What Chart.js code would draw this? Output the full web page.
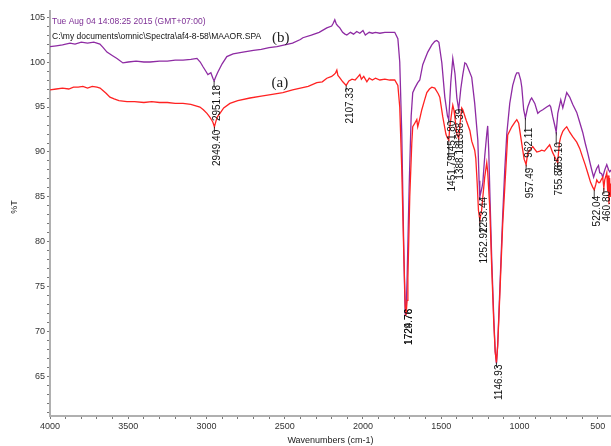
<!DOCTYPE html>
<html><head><meta charset="utf-8">
<script src="https://cdn.jsdelivr.net/npm/chart.js@4/dist/chart.umd.min.js"></script>
<style>html,body{margin:0;padding:0;background:#fff;overflow:hidden}</style>
</head><body>
<canvas id="c" width="611" height="446"></canvas>
<script>
// ---- DATA ----
const seriesNames = ["(a)", "(b)"];
const wnA = [4000,3960,3920,3880,3850,3820,3790,3760,3730,3700,3680,3660,3640,3617,3590,3560,3508,3460,3400,3350,3300,3250,3200,3150,3100,3042,3020,2997,2980,2965,2959,2949.4,2940,2930,2914,2890,2850,2800,2722,2650,2580,2512,2450,2400,2350,2295,2260,2231,2200,2185,2175,2167,2160,2150,2129,2107.33,2090,2070,2050,2035,2020,2010,1995,1975,1960,1940,1920,1892,1860,1830,1797,1777,1765,1752,1739,1730,1724.76,1718,1713,1701,1688,1682,1669,1656,1650,1637,1624,1606,1592,1575,1560,1541,1520,1509,1490,1470,1464,1451.79,1445,1432,1426,1418,1413,1400,1388.18,1378,1369,1362,1340,1317,1305,1286,1279,1270,1262,1252.92,1242,1234,1222,1209,1203,1190,1177,1164,1155,1146.93,1139,1126,1107,1094,1081,1075,1049,1030,1017,1005,998,985,979,970,957.49,947,930,915,902,889,870,858,840,826,807,800,787,770,755.86,745,736,723,710,698,679,660,634,615,596,580,564,545,532,522.04,512,506,495,487,475,468,460.8,455,448,442,436,432,428,424,420,415];
const tA = [96.9,97.0,97.1,97.0,97.2,97.2,97.3,97.1,97.3,97.2,97.1,96.8,96.5,96.1,95.9,95.7,95.6,95.6,95.5,95.6,95.5,95.5,95.4,95.4,95.3,95.0,94.7,94.3,93.9,93.5,93.3,92.8,93.4,93.9,94.3,94.9,95.4,95.7,96.0,96.2,96.4,96.6,96.9,97.1,97.3,97.7,97.8,98.2,98.4,98.6,98.8,99.1,98.5,98.3,97.8,97.4,97.9,98.1,98.0,98.3,98.6,98.1,98.4,97.8,98.2,98.0,98.2,98.0,98.1,98.0,98.0,97.4,95.0,88.0,78.5,73.0,71.8,73.5,76.0,85.0,91.0,92.8,93.2,93.6,92.8,93.7,94.7,95.8,96.6,97.0,97.2,97.1,96.5,96.1,93.9,92.0,91.7,91.3,92.8,94.5,95.2,94.6,93.9,92.0,91.5,93.4,94.9,94.7,93.5,92.4,91.2,90.2,89.3,86.5,83.5,82.4,83.5,85.0,87.2,88.8,87.8,83.9,77.0,71.0,67.8,66.6,68.5,73.9,82.0,86.0,90.0,91.9,92.8,93.3,93.6,93.2,92.4,90.9,90.2,89.2,88.6,89.9,90.3,90.6,90.3,90.0,90.1,90.2,90.1,90.4,90.8,90.5,89.9,89.3,88.8,91.0,91.7,92.3,92.6,92.8,92.2,91.7,91.1,90.4,89.4,88.6,87.7,86.6,86.1,85.8,86.4,86.9,86.6,86.6,87.0,87.2,86.0,86.9,87.3,87.7,85.6,87.4,84.2,87.1,85.0,86.5];
const wnB = [4000,3960,3920,3872,3840,3800,3760,3720,3681,3660,3636,3600,3572,3534,3500,3450,3400,3361,3300,3250,3200,3150,3100,3061,3040,3023,3005,2991,2972,2959,2951.18,2940,2927,2900,2870,2830,2767,2700,2650,2600,2550,2500,2450,2400,2384,2330,2280,2231,2200,2190,2180,2170,2160,2148,2130,2115,2103,2080,2060,2040,2020,2000,1985,1960,1940,1920,1892,1860,1830,1797,1777,1765,1752,1740,1733,1729.76,1723,1718,1705,1692,1682,1669,1650,1637,1618,1600,1586,1560,1541,1528,1515,1496,1477,1460,1451.8,1439,1426,1412,1400,1388.39,1375,1362,1349,1340,1330,1305,1286,1266,1258,1253.44,1240,1234,1222,1209,1203,1196,1190,1177,1164,1155,1146.93,1139,1126,1107,1094,1081,1062,1043,1025,1017,1005,992,985,973,962.11,947,930,922,902,883,870,851,826,807,800,787,775,765.1,755,736,723,710,698,679,660,634,615,596,580,564,545,538,526,519,506,495,487,475,468,455,442,430,423,415];
const tB = [101.7,101.8,101.9,102.1,102.0,102.2,102.1,102.2,102.0,101.6,101.1,100.7,100.4,99.9,100.0,100.1,100.0,100.0,100.1,100.1,100.2,100.2,100.3,100.4,100.0,99.5,99.0,98.6,98.8,98.2,97.9,98.4,98.9,99.8,100.6,100.9,101.1,101.3,101.4,101.6,101.7,101.9,102.1,102.5,102.7,103.0,103.3,103.8,104.0,104.3,104.7,104.2,104.0,103.8,103.3,103.1,103.0,103.3,103.1,103.4,103.2,103.5,103.0,103.3,103.2,103.3,103.2,103.3,103.3,103.3,102.6,100.0,92.0,80.0,74.0,71.8,73.0,76.0,86.0,94.0,96.6,97.1,97.7,98.0,99.7,100.5,101.1,101.9,102.3,102.4,102.2,99.9,96.1,94.0,93.6,97.7,100.4,98.7,96.0,94.7,97.0,98.6,99.9,99.8,99.4,98.3,95.4,91.3,86.8,85.0,86.0,86.6,89.5,92.0,92.9,90.0,86.0,78.0,71.5,67.8,66.5,68.6,74.5,83.0,88.0,92.0,95.4,97.4,98.5,98.8,98.8,98.0,97.2,94.7,93.8,95.0,95.8,96.0,95.4,94.3,94.5,94.7,95.0,95.2,95.0,93.9,93.0,92.2,94.3,95.8,94.9,95.8,96.6,96.1,95.3,94.4,93.3,92.2,91.0,89.9,88.5,88.0,87.2,87.6,88.2,88.5,87.7,87.6,87.2,88.0,88.6,88.0,87.8,88.0];
const xTickLabels = [4000,3500,3000,2500,2000,1500,1000,500];
const yTickLabels = [65,70,75,80,85,90,95,100,105];
const peakWn = [2951.18,2949.40,2107.33,1729.76,1724.76,1451.80,1451.79,1388.39,1388.18,1253.44,1252.92,1146.93,962.11,957.49,765.10,755.86,522.04,460.80];
const peakT  = [97.9,92.8,97.4,71.8,71.8,93.6,91.3,94.7,91.5,85.0,82.4,66.6,93.8,88.6,92.2,88.8,85.8,86.0];
const headerLine1 = "Tue Aug 04 14:08:25 2015 (GMT+07:00)";
const headerLine2 = "C:\\my documents\\omnic\\Spectra\\af4-8-58\\MAAOR.SPA";
const xTitle = "Wavenumbers (cm-1)";
const yTitle = "%T";

// ---- LAYOUT (pixels) ----
const labelDy = [4,3,2,-7,-7,1,15,-1,5,0,7,2,10,3,10,2,6,3];
const labelDx = [3,3,4,3.5,3,3,3,2,2,4,4,3,4,4,3.5,2,3,3];

const xMinor = []; for (let v = 500; v <= 4000; v += 100) xMinor.push(v);
const yMinor = []; for (let v = 61; v <= 105; v += 1) yMinor.push(v);

const FONT = "'Liberation Sans', Arial, sans-serif";
const PURPLE = '#8e2ba3';
const RED = '#ff2222';

const textPlugin = {
  id: 'texts',
  afterDraw(chart) {
    const ctx = chart.ctx, xs = chart.scales.x, ys = chart.scales.y;
    ctx.save();
    ctx.textBaseline = 'middle'; ctx.textAlign = 'left';
    ctx.font = "8.5px " + FONT;
    ctx.fillStyle = '#7d2f95';
    ctx.fillText(headerLine1, 52, 22);
    ctx.fillStyle = '#111';
    ctx.fillText(headerLine2, 52, 37);
    ctx.font = "15px 'Liberation Serif', 'Times New Roman', serif";
    ctx.fillStyle = '#222';
    ctx.textAlign = 'center';
    ctx.fillText(seriesNames[1], xs.getPixelForValue(2525), ys.getPixelForValue(102.67));
    ctx.fillText(seriesNames[0], xs.getPixelForValue(2531), ys.getPixelForValue(97.66));
    ctx.font = "9px " + FONT;
    ctx.fillStyle = '#222';
    ctx.fillText(xTitle, (chart.chartArea.left + chart.chartArea.right) / 2, 441);
    ctx.save();
    ctx.translate(15, 207); ctx.rotate(-Math.PI / 2);
    ctx.fillText(yTitle, 0, 0);
    ctx.restore();
    ctx.font = "10px " + FONT;
    ctx.fillStyle = '#111';
    ctx.strokeStyle = '#111';
    ctx.lineWidth = 0.8;
    for (let i = 0; i < peakWn.length; i++) {
      const px = xs.getPixelForValue(peakWn[i]);
      const py = ys.getPixelForValue(peakT[i]);
      const top = py + labelDy[i];
      ctx.beginPath();
      ctx.moveTo(px, py);
      ctx.lineTo(px, Math.max(py, top + 3));
      ctx.stroke();
      ctx.save();
      ctx.translate(px + labelDx[i], top);
      ctx.rotate(-Math.PI / 2);
      ctx.textAlign = 'right'; ctx.textBaseline = 'middle';
      ctx.fillText(peakWn[i].toFixed(2), 0, 0);
      ctx.restore();
    }
    ctx.restore();
  }
};

new Chart(document.getElementById('c'), {
  type: 'line',
  data: {
    datasets: [
      { label: seriesNames[0], data: wnA.map((w, i) => ({ x: w, y: tA[i] })), borderColor: RED, borderWidth: 1.3, pointRadius: 0, tension: 0 },
      { label: seriesNames[1], data: wnB.map((w, i) => ({ x: w, y: tB[i] })), borderColor: PURPLE, borderWidth: 1.3, pointRadius: 0, tension: 0 }
    ]
  },
  options: {
    responsive: false, animation: false, devicePixelRatio: 1,
    layout: { padding: { top: 11, right: 0, left: 0, bottom: 0 } },
    plugins: { legend: { display: false }, tooltip: { enabled: false } },
    scales: {
      x: {
        type: 'linear', reverse: true, min: 415, max: 4000,
        afterBuildTicks: s => { s.ticks = xMinor.map(v => ({ value: v })); },
        afterFit: s => { s.height = 30; },
        ticks: { autoSkip: false, maxRotation: 0, minRotation: 0, padding: 2,
          callback: v => xTickLabels.includes(v) ? String(v) : '',
          font: { family: FONT, size: 9 }, color: '#333' },
        grid: { drawOnChartArea: false, tickLength: 3, tickColor: '#777', tickWidth: 1 },
        border: { color: '#b0b0b0', width: 2 }
      },
      y: {
        min: 60.66, max: 105.67,
        afterBuildTicks: s => { s.ticks = yMinor.map(v => ({ value: v })); },
        afterFit: s => { s.width = 50; },
        ticks: { autoSkip: false, padding: 2,
          callback: v => yTickLabels.includes(v) ? String(v) : '',
          font: { family: FONT, size: 9 }, color: '#333' },
        grid: { drawOnChartArea: false, tickLength: 3, tickColor: '#777', tickWidth: 1 },
        border: { color: '#b0b0b0', width: 2 }
      }
    }
  },
  plugins: [textPlugin]
});
</script>
</body></html>
